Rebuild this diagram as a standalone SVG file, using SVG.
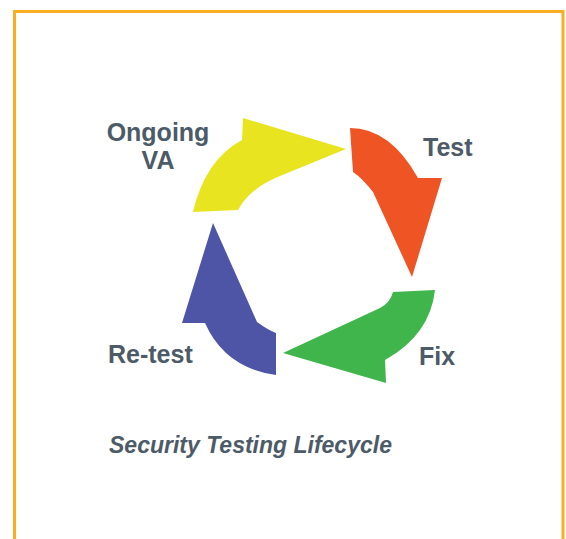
<svg xmlns="http://www.w3.org/2000/svg" width="566" height="539" viewBox="0 0 566 539">
  <style>
    .lbl { font-family: "Liberation Sans", Arial, sans-serif; font-weight: bold; font-size: 25px; fill: #4c5b67; }
    .title { font-family: "Liberation Sans", Arial, sans-serif; font-weight: bold; font-style: italic; font-size: 23px; fill: #4c5b67; }
    .frame { fill: none; stroke: #f8ad22; stroke-width: 3; }
  </style>
  <rect width="566" height="539" fill="#ffffff"/>
  <!-- outer frame, open at the bottom -->
  <path class="frame" d="M14.5,545 L14.5,11.5 L563,11.5 L563,545"/>

  <g id="connectors">
    <!-- Ongoing VA -> Test -->
    <path id="arrow-yellow" fill="#e8e41f" d="M193,212 Q205,160 242,140 L243,118 L346,149 L280,176 Q250,188 238,210 Z"/>
    <!-- Test -> Fix -->
    <path id="arrow-orange" fill="#ef5424" d="M350,128 Q390,128 418,178 L442,178 L412,277 L373,192 Q362,178 353,172 Z"/>
    <!-- Fix -> Re-test -->
    <path id="arrow-green" fill="#3fb54b" d="M435,290 L393,292 Q390,303 380,308 L283,353 L386,383 L385,360 Q430,335 435,290 Z"/>
    <!-- Re-test -> Ongoing VA -->
    <path id="arrow-blue" fill="#4f55a6" d="M213,223 L257,322 Q268,330 276,333 L276,375 Q225,368 205,323 L182,323 Z"/>
  </g>

  <g id="node-ongoing-va">
    <text class="lbl" x="158" y="141" text-anchor="middle">Ongoing</text>
    <text class="lbl" x="158" y="169" text-anchor="middle">VA</text>
  </g>
  <g id="node-test">
    <text class="lbl" x="423" y="156">Test</text>
  </g>
  <g id="node-fix">
    <text class="lbl" x="419" y="365">Fix</text>
  </g>
  <g id="node-retest">
    <text class="lbl" x="108" y="363">Re-test</text>
  </g>
  <g id="caption">
    <text class="title" x="109" y="453">Security Testing Lifecycle</text>
  </g>
</svg>
